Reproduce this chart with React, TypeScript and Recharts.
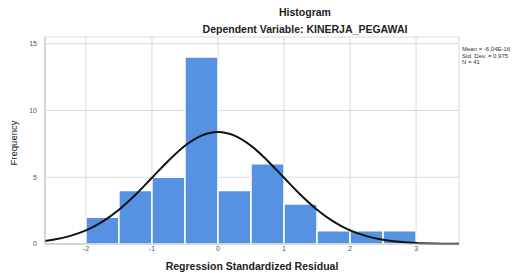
import { CartesianGrid, ComposedChart, Line, ReferenceArea, XAxis, YAxis } from "recharts";

// histogram bins (width 0.5) of standardized residuals
const binStart = [-2, -1.5, -1, -0.5, 0, 0.5, 1, 1.5, 2, 2.5];
const binCount = [2, 4, 5, 14, 4, 6, 3, 1, 1, 1];

// fitted normal curve
const curveX = [-2.62, -2.5, -2.25, -2, -1.75, -1.5, -1.25, -1, -0.75, -0.5, -0.25, 0, 0.25, 0.5, 0.75, 1, 1.25, 1.5, 1.75, 2, 2.25, 2.5, 2.75, 3, 3.25, 3.5, 3.65];
const curveY = [0.23, 0.31, 0.59, 1.02, 1.68, 2.57, 3.69, 4.96, 6.24, 7.36, 8.12, 8.39, 8.12, 7.36, 6.24, 4.96, 3.69, 2.57, 1.68, 1.02, 0.59, 0.31, 0.16, 0.07, 0.03, 0.01, 0.01];

const xTicks = [-2, -1, 0, 1, 2, 3];
const yTicks = [0, 5, 10, 15];
const stats = ["Mean = -6,04E-16", "Std. Dev. = 0,975", "N = 41"];

const curve = curveX.map((x, i) => ({ x, y: curveY[i] }));
const font = "'Liberation Sans', Arial, sans-serif";

export default function App() {
  return (
    <div style={{ position: "absolute", left: 0, top: 0, width: 524, height: 273, background: "#fff", fontFamily: font }}>
      <ComposedChart width={524} height={273} data={curve} margin={{ top: 37, right: 65, left: 0, bottom: 0 }}>
        <CartesianGrid stroke="#d9d9d9" vertical horizontal />
        <XAxis
          dataKey="x"
          type="number"
          domain={[-2.62, 3.65]}
          ticks={xTicks}
          allowDataOverflow
          height={29}
          tick={{ fontSize: 7, fill: "#555", fontFamily: font, dy: -6 }}
          tickLine={false}
          axisLine={{ stroke: "#bdbdbd" }}
        />
        <YAxis
          type="number"
          domain={[0, 15.5]}
          ticks={yTicks}
          width={45}
          tick={{ fontSize: 7, fill: "#555", fontFamily: font }}
          tickLine={false}
          axisLine={{ stroke: "#bdbdbd" }}
        />
        {binStart.map((b, i) => (
          <ReferenceArea
            key={b}
            x1={b}
            x2={b + 0.5}
            y1={0}
            y2={binCount[i]}
            fill="#5592e2"
            fillOpacity={1}
            stroke="#ffffff"
            strokeWidth={1.5}
          />
        ))}
        <Line dataKey="y" type="monotone" stroke="#111" strokeWidth={2} dot={false} isAnimationActive={false} />
        <text x={305} y={16} textAnchor="middle" fontSize={10.5} fontWeight="bold" fill="#222" fontFamily={font}>
          Histogram
        </text>
        <text x={305} y={33} textAnchor="middle" fontSize={10.5} fontWeight="bold" fill="#222" fontFamily={font}>
          Dependent Variable: KINERJA_PEGAWAI
        </text>
        <text x={17} y={143} textAnchor="middle" fontSize={9.5} fill="#222" fontFamily={font} transform="rotate(-90 17 143)">
          Frequency
        </text>
        <text x={252} y={270} textAnchor="middle" fontSize={10.5} fontWeight="bold" fill="#222" fontFamily={font}>
          Regression Standardized Residual
        </text>
        {stats.map((s, i) => (
          <text key={s} x={462} y={51 + i * 6.5} fontSize={6} fill="#333" fontFamily={font}>
            {s}
          </text>
        ))}
      </ComposedChart>
    </div>
  );
}
